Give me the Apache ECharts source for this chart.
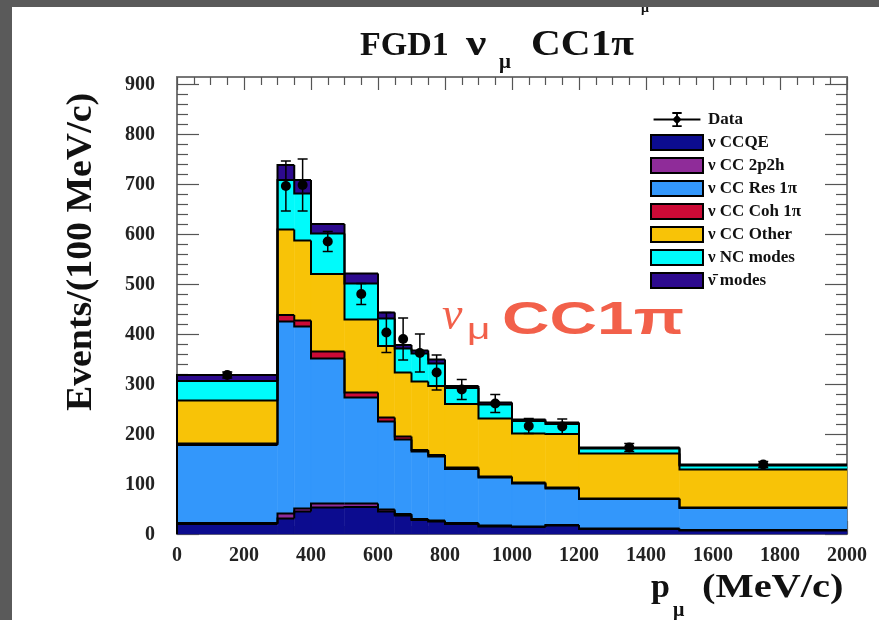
<!DOCTYPE html>
<html>
<head>
<meta charset="utf-8">
<title>FGD1 numu CC1pi</title>
<script src="https://cdn.jsdelivr.net/npm/echarts@6/dist/echarts.min.js"></script>
<style>
  html, body { margin: 0; padding: 0; background: #fff; }
  #chart { width: 879px; height: 620px; }
</style>
</head>
<body>
<div id="chart"></div>
<script>
/* ========== FGD1 νμ CC1π : p_μ stacked MC + data ========== */

// bin edges (MeV/c), variable width
const BIN_EDGES = [0, 300, 350, 400, 500, 600, 650, 700, 750, 800, 900, 1000, 1100, 1200, 1500, 2000];

const CCQE   = [20, 31, 45, 53, 54, 45, 37, 28, 25, 20, 15, 14, 17, 10, 7];
const CC2P2H = [2, 10, 6, 8, 7, 4, 3, 2, 2, 2, 2, 1, 1, 1, 1];
const CCRES  = [156, 384, 364, 290, 212, 176, 149, 135, 128, 108, 96, 86, 73, 59, 44];
const CCCOH  = [3, 13, 12, 14, 10, 8, 6, 3, 3, 3, 2, 2, 2, 1, 1];
const CCOTH  = [86, 171, 160, 155, 146, 143, 128, 137, 138, 127, 116, 98, 107, 90, 76];
const NCALL  = [39, 99, 94, 81, 72, 55, 48, 56, 45, 32, 28, 25, 20, 10, 8];
const ANTINU = [12, 30, 27, 19, 20, 12, 7, 6, 8, 4, 4, 3, 3, 2, 2];

// data points and their errors
const DATA     = [318, 696, 698, 585, 480, 403, 390, 362, 323, 289, 261, 216, 215, 173, 139];
const DATA_ERR = [6, 50, 52, 20, 21, 40, 42, 38, 35, 20, 18, 15, 15, 8, 6];

const COMPONENTS = [
    { name: "ν CCQE",      values: CCQE,   color: "#0c0c8f" },
    { name: "ν CC 2p2h",   values: CC2P2H, color: "#8f2c99" },
    { name: "ν CC Res 1π", values: CCRES,  color: "#3397fb" },
    { name: "ν CC Coh 1π", values: CCCOH,  color: "#cc0a36" },
    { name: "ν CC Other",  values: CCOTH,  color: "#f8c307" },
    { name: "ν NC modes",  values: NCALL,  color: "#00fbfb" },
    { name: "ν\u0304 modes", values: ANTINU, color: "#2d0a8e" },
];

const SERIF = "'Liberation Serif', 'Times New Roman', serif";
const SANS = "'Liberation Sans', Arial, sans-serif";
const Y_MAX = 914;

function buildStackSeries() {
    const base = BIN_EDGES.slice(1).map(() => 0);
    return COMPONENTS.map(comp => {
        const rows = comp.values.map((v, i) => {
            const y0 = base[i];
            const y1 = y0 + v;
            const prevTop = i > 0 ? base[i - 1] + comp.values[i - 1] : 0;
            return [BIN_EDGES[i], BIN_EDGES[i + 1], y0, y1, prevTop];
        });
        comp.values.forEach((v, i) => { base[i] += v; });
        return {
            name: comp.name,
            type: "custom",
            xAxisIndex: 0,
            yAxisIndex: 0,
            itemStyle: { color: comp.color, borderColor: "#000", borderWidth: 1 },
            renderItem: (params, api) => {
                const bl = api.coord([api.value(0), api.value(2)]);
                const tr = api.coord([api.value(1), api.value(3)]);
                const pv = api.coord([api.value(0), api.value(4)]);
                return {
                    type: "group",
                    children: [
                        {
                            type: "rect",
                            z2: 1,
                            shape: { x: bl[0], y: tr[1], width: tr[0] - bl[0], height: bl[1] - tr[1] },
                            style: { fill: comp.color, stroke: comp.color, lineWidth: 0.5 },
                        },
                        {
                            type: "polyline",
                            z2: 10,
                            shape: { points: [pv, [bl[0], tr[1]], tr] },
                            style: { stroke: "#000", lineWidth: 2, fill: null },
                        },
                    ],
                };
            },
            data: rows,
        };
    });
}

function buildDataSeries() {
    const rows = DATA.map((v, i) => [(BIN_EDGES[i] + BIN_EDGES[i + 1]) / 2, v, DATA_ERR[i]]);
    return {
        name: "Data",
        type: "custom",
        xAxisIndex: 0,
        yAxisIndex: 0,
        itemStyle: { color: "#000" },
        renderItem: (params, api) => {
            const x = api.value(0), v = api.value(1), e = api.value(2);
            const c = api.coord([x, v]);
            const hi = api.coord([x, v + e]);
            const lo = api.coord([x, v - e]);
            const line = { stroke: "#000", lineWidth: 1.5 };
            return {
                type: "group",
                children: [
                    { type: "line", z2: 20, shape: { x1: c[0], y1: hi[1], x2: c[0], y2: lo[1] }, style: line },
                    { type: "line", z2: 20, shape: { x1: c[0] - 5, y1: hi[1], x2: c[0] + 5, y2: hi[1] }, style: line },
                    { type: "line", z2: 20, shape: { x1: c[0] - 5, y1: lo[1], x2: c[0] + 5, y2: lo[1] }, style: line },
                    { type: "circle", z2: 21, shape: { cx: c[0], cy: c[1], r: 5 }, style: { fill: "#000" } },
                ],
            };
        },
        data: rows,
    };
}

const tickLabel = { fontFamily: SERIF, fontWeight: "bold", fontSize: 20, color: "#222" };
const frameLine = { show: true, onZero: false, lineStyle: { color: "#777", width: 2 } };
const noLine = { show: false, onZero: false };
const tickStyle = { color: "#555", width: 1.2 };

const chart = echarts.init(document.getElementById("chart"), null, { renderer: "canvas" });
chart.setOption({
    backgroundColor: "#fff",
    animation: false,
    grid: [
        { left: 177, right: 32, top: 77, bottom: 86 },
        { left: 177, right: 32, top: 84, bottom: 86 },
    ],
    xAxis: [
        {
            gridIndex: 0, type: "value", position: "bottom", min: 0, max: 2000, interval: 200,
            axisLine: frameLine,
            axisTick: { inside: true, length: 13, lineStyle: tickStyle },
            minorTick: { show: true, splitNumber: 4, length: 8, lineStyle: tickStyle },
            axisLabel: { ...tickLabel, margin: 12, formatter: v => String(v) },
            splitLine: { show: false },
        },
        {
            gridIndex: 0, type: "value", position: "top", min: 0, max: 2000, interval: 200,
            axisLine: frameLine,
            axisTick: { inside: true, length: 13, lineStyle: tickStyle },
            minorTick: { show: true, splitNumber: 4, length: 8, lineStyle: tickStyle },
            axisLabel: { show: false },
            splitLine: { show: false },
        },
        { gridIndex: 1, type: "value", min: 0, max: 2000, show: false },
    ],
    yAxis: [
        {
            gridIndex: 0, type: "value", position: "left", min: 0, max: Y_MAX,
            axisLine: frameLine, axisTick: { show: false }, axisLabel: { show: false },
            splitLine: { show: false },
        },
        {
            gridIndex: 0, type: "value", position: "right", min: 0, max: Y_MAX,
            axisLine: frameLine, axisTick: { show: false }, axisLabel: { show: false },
            splitLine: { show: false },
        },
        {
            gridIndex: 1, type: "value", position: "left", min: 0, max: 900, interval: 100,
            axisLine: noLine,
            axisTick: { inside: true, length: 22, lineStyle: tickStyle },
            minorTick: { show: true, splitNumber: 5, length: 11, lineStyle: tickStyle },
            axisLabel: { ...tickLabel, margin: 22, verticalAlign: "top", padding: [-9, 0, 0, 0] },
            splitLine: { show: false },
        },
        {
            gridIndex: 1, type: "value", position: "right", min: 0, max: 900, interval: 100,
            axisLine: noLine,
            axisTick: { inside: true, length: 22, lineStyle: tickStyle },
            minorTick: { show: true, splitNumber: 5, length: 11, lineStyle: tickStyle },
            axisLabel: { show: false },
            splitLine: { show: false },
        },
    ],
    legend: {
        orient: "vertical",
        left: 645,
        top: 106,
        itemWidth: 52,
        itemHeight: 15,
        itemGap: 6,
        selectedMode: false,
        textStyle: { fontFamily: SERIF, fontWeight: "bold", fontSize: 17, lineHeight: 15, color: "#111" },
        data: [
            { name: "Data", icon: "path://M0,7L50,7L50,9L0,9Z M24,1L26,1L26,15L24,15Z M20,0L30,0L30,2L20,2Z M20,14L30,14L30,16L20,16Z M20,8L25,3L30,8L25,13Z" },
            ...COMPONENTS.map(c => ({ name: c.name, icon: "rect" })),
        ],
    },
    graphic: [
        // dark slide frame round the screenshot
        { type: "rect", left: 0, top: 0, z: 100, shape: { width: 879, height: 7 }, style: { fill: "#5a5a5a" } },
        { type: "rect", left: 0, top: 0, z: 100, shape: { width: 12, height: 620 }, style: { fill: "#5a5a5a" } },
        // title
        { type: "text", x: 360, y: 46, style: { text: "FGD1", font: `bold 34px ${SERIF}`, fill: "#111", verticalAlign: "middle" } },
        { type: "text", x: 466, y: 46, scaleX: 1.3, style: { text: "ν", font: `bold 35px ${SERIF}`, fill: "#111", verticalAlign: "middle" } },
        { type: "text", x: 499, y: 63, style: { text: "μ", font: `bold 21px ${SERIF}`, fill: "#111", verticalAlign: "middle" } },
        { type: "text", x: 531, y: 46, scaleX: 1.18, style: { text: "CC1π", font: `bold 35px ${SERIF}`, fill: "#111", verticalAlign: "middle" } },
        { type: "text", x: 641, y: 8, style: { text: "μ", font: `bold 14px ${SERIF}`, fill: "#111", verticalAlign: "middle" } },
        // axis titles
        { type: "text", x: 82, y: 252, rotation: Math.PI / 2, scaleX: 1.05, style: { text: "Events/(100 MeV/c)", font: `bold 36px ${SERIF}`, fill: "#111", align: "center", verticalAlign: "middle" } },
        { type: "text", x: 651, y: 588, style: { text: "p", font: `bold 34px ${SERIF}`, fill: "#111", verticalAlign: "middle" } },
        { type: "text", x: 673, y: 611, style: { text: "μ", font: `bold 20px ${SERIF}`, fill: "#111", verticalAlign: "middle" } },
        { type: "text", x: 702, y: 588, scaleX: 1.19, style: { text: "(MeV/c)", font: `bold 34px ${SERIF}`, fill: "#111", verticalAlign: "middle" } },
        // red annotation
        { type: "text", x: 442, y: 317, z: 50, style: { text: "ν", font: `italic 46px ${SERIF}`, fill: "#f2604a", verticalAlign: "middle" } },
        { type: "text", x: 467, y: 331, z: 50, scaleX: 1.35, style: { text: "μ", font: `30px ${SANS}`, fill: "#f2604a", verticalAlign: "middle" } },
        { type: "text", x: 502, y: 321, z: 50, scaleX: 1.4, style: { text: "CC1π", font: `bold 47px ${SANS}`, fill: "#f2604a", verticalAlign: "middle" } },
    ],
    series: [...buildStackSeries(), buildDataSeries()],
});
</script>
</body>
</html>
